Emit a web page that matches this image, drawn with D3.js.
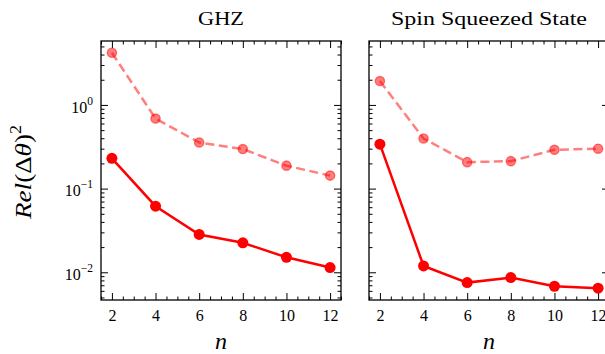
<!DOCTYPE html>
<html><head><meta charset="utf-8">
<script src="https://cdn.jsdelivr.net/npm/d3@7"></script>
<style>body{margin:0;background:#fff}svg{display:block}</style>
</head><body>
<script>
const nVals = [2, 4, 6, 8, 10, 12];
const ghzSolid  = [0.23, 0.0616, 0.0283, 0.0225, 0.0151, 0.0114];
const ghzDashed = [4.2, 0.687, 0.356, 0.297, 0.188, 0.143];
const sssSolid  = [0.34, 0.0119, 0.00753, 0.00865, 0.00681, 0.00645];
const sssDashed = [1.93, 0.397, 0.207, 0.213, 0.291, 0.30];
const titles = ["GHZ", "Spin Squeezed State"];
const xTicks = [2, 4, 6, 8, 10, 12];
const yTickExps = [0, -1, -2];

const W = 605, H = 354;
const svg = d3.select("body").append("svg").attr("width", W).attr("height", H);
const font = "'Liberation Serif','DejaVu Serif',serif";

const plotTop = 41, plotBottom = 300, pw = 240;
const panelX = [101, 369];
const titleWidths = [46, 196];

const all = ghzSolid.concat(ghzDashed, sssSolid, sssDashed);
const lo = Math.log10(d3.min(all)), hi = Math.log10(d3.max(all));
const pad = 0.05 * (hi - lo);
const y = d3.scaleLog().domain([Math.pow(10, lo - pad), Math.pow(10, hi + pad)]).range([plotBottom - plotTop, 0]);
const x = d3.scaleLinear().domain([1.5, 12.5]).range([0, pw]);

const minorX = d3.range(1.5, 12.51, 0.5).filter(v => v % 2 !== 0);
const minorY = [];
for (let e = -3; e <= 1; e++) for (let m = 2; m <= 9; m++) {
  const v = m * Math.pow(10, e);
  if (v >= y.domain()[0] && v <= y.domain()[1]) minorY.push(v);
}
const majorY = yTickExps.map(e => Math.pow(10, e));

const panels = [
  {title: titles[0], solid: ghzSolid, dashed: ghzDashed, labels: true},
  {title: titles[1], solid: sssSolid, dashed: sssDashed, labels: false}
];

panels.forEach((p, i) => {
  const g = svg.append("g").attr("transform", `translate(${panelX[i]},${plotTop})`);
  const h = plotBottom - plotTop;

  const styleAxis = sel => {
    sel.select(".domain").remove();
    sel.selectAll("line").attr("stroke", "#000").attr("stroke-width", 1);
    sel.selectAll("text").attr("font-family", font).attr("font-size", 16).attr("fill", "#000");
  };
  g.append("g").attr("transform", `translate(0,${h})`)
    .call(d3.axisBottom(x).tickValues(xTicks).tickSize(-7).tickPadding(10).tickFormat(d3.format("d")))
    .call(styleAxis);
  g.append("g").attr("transform", `translate(0,${h})`)
    .call(d3.axisBottom(x).tickValues(minorX).tickSize(-3.5).tickFormat("")).call(styleAxis);
  g.append("g").call(d3.axisTop(x).tickValues(xTicks).tickSize(-7).tickFormat("")).call(styleAxis);
  g.append("g").call(d3.axisTop(x).tickValues(minorX).tickSize(-3.5).tickFormat("")).call(styleAxis);

  const left = g.append("g")
    .call(d3.axisLeft(y).tickValues(majorY).tickSize(-7).tickPadding(8).tickFormat(p.labels ? (d => "10") : ""))
    .call(styleAxis);
  if (p.labels) {
    left.selectAll(".tick text").each(function(d) {
      const t = d3.select(this);
      const e = Math.round(Math.log10(d));
      t.text(null).attr("dy", "0.45em");
      t.append("tspan").text("10");
      t.append("tspan").attr("font-size", 11.5).attr("dy", "-0.7em").text(e < 0 ? "\u2212" + (-e) : String(e));
    });
  }
  g.append("g").call(d3.axisLeft(y).tickValues(minorY).tickSize(-3.5).tickFormat("")).call(styleAxis);
  g.append("g").attr("transform", `translate(${pw},0)`)
    .call(d3.axisRight(y).tickValues(majorY).tickSize(-7).tickFormat("")).call(styleAxis);
  g.append("g").attr("transform", `translate(${pw},0)`)
    .call(d3.axisRight(y).tickValues(minorY).tickSize(-3.5).tickFormat("")).call(styleAxis);

  g.append("rect").attr("x", 0).attr("y", 0).attr("width", pw).attr("height", h)
    .attr("fill", "none").attr("stroke", "#000").attr("stroke-width", 1.3);

  const line = d3.line().x((d, j) => x(nVals[j])).y(d => y(d));

  g.append("path").datum(p.dashed).attr("d", line).attr("fill", "none")
    .attr("stroke", "#ff0000").attr("stroke-opacity", 0.5).attr("stroke-width", 2.5)
    .attr("stroke-dasharray", "9,4.5");
  g.selectAll(".dm").data(p.dashed).join("circle")
    .attr("cx", (d, j) => x(nVals[j])).attr("cy", d => y(d)).attr("r", 4.6)
    .attr("fill", "#ff0000").attr("fill-opacity", 0.5)
    .attr("stroke", "#ff0000").attr("stroke-opacity", 0.5).attr("stroke-width", 1.4);

  g.append("path").datum(p.solid).attr("d", line).attr("fill", "none")
    .attr("stroke", "#ff0000").attr("stroke-width", 2.5);
  g.selectAll(".sm").data(p.solid).join("circle")
    .attr("cx", (d, j) => x(nVals[j])).attr("cy", d => y(d)).attr("r", 5.5)
    .attr("fill", "#ff0000");

  svg.append("text").attr("x", panelX[i] + pw / 2).attr("y", 25)
    .attr("text-anchor", "middle").attr("font-family", font).attr("font-size", 18)
    .attr("textLength", titleWidths[i]).attr("lengthAdjust", "spacingAndGlyphs")
    .text(p.title);

  svg.append("text").attr("x", panelX[i] + pw / 2).attr("y", 349)
    .attr("text-anchor", "middle").attr("font-family", font).attr("font-size", 24)
    .attr("font-style", "italic").text("n");
});

const yl = svg.append("text").attr("transform", "translate(31,172) rotate(-90)")
  .attr("text-anchor", "middle").attr("font-family", font).attr("font-size", 24)
  .attr("textLength", 94).attr("lengthAdjust", "spacingAndGlyphs");
yl.append("tspan").attr("font-style", "italic").text("Rel");
yl.append("tspan").text("(\u0394");
yl.append("tspan").attr("font-style", "italic").text("\u03b8");
yl.append("tspan").text(")");
yl.append("tspan").attr("font-size", 16).attr("dy", "-0.6em").text("2");
</script>
</body></html>
